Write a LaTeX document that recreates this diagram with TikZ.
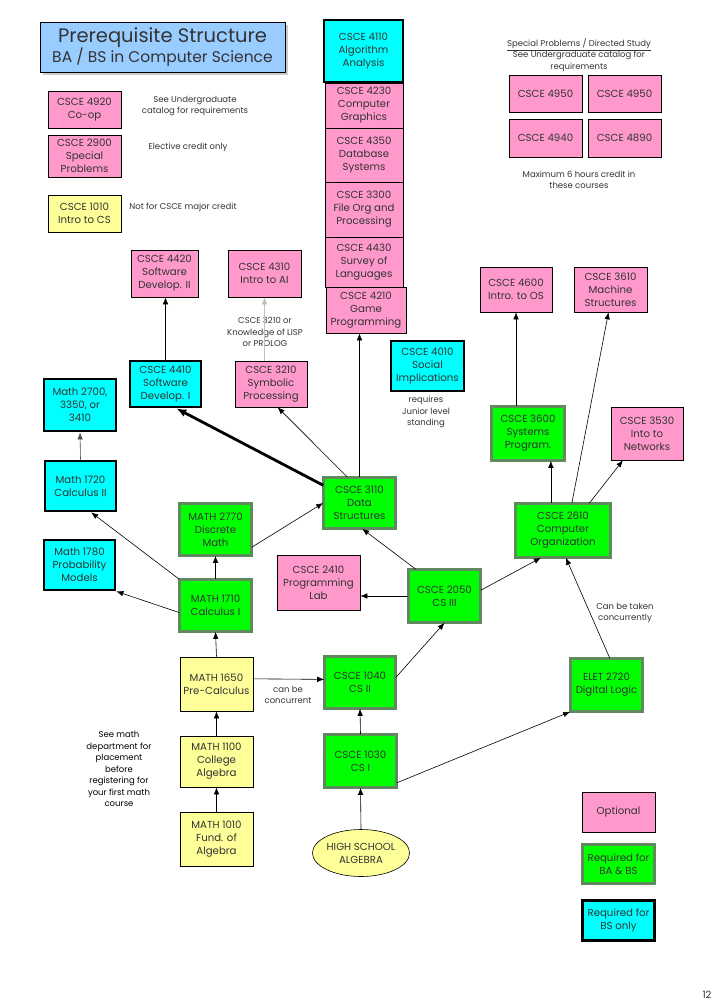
\documentclass[tikz,border=0pt]{standalone}
\usepackage{fontspec}
\setmainfont{Poppins}
\usetikzlibrary{arrows.meta,shadows,shapes.geometric}
\definecolor{optpink}{HTML}{FF99CC}
\definecolor{preyellow}{HTML}{FFFF99}
\definecolor{reqgreen}{HTML}{00FF00}
\definecolor{bandgreen}{HTML}{5E8A5E}
\definecolor{bscyan}{HTML}{00FFFF}
\definecolor{titleblue}{HTML}{99CCFF}
\definecolor{ink}{HTML}{333333}
\newcommand\boxfont{\fontsize{10.2}{13}\selectfont}
\newcommand\notefont{\fontsize{8.5}{11.5}\selectfont}
\tikzset{
  course/.style={rectangle, align=center, text=ink, font=\boxfont, inner sep=1pt, minimum width=74pt},
  optional/.style={course, draw=black, line width=0.6pt, fill=optpink},
  premath/.style={course, draw=black, line width=0.6pt, fill=preyellow},
  required/.style={course, draw=black, line width=0.6pt, double=bandgreen, double distance=2.2pt, fill=reqgreen},
  bsonly/.style={course, draw=black, line width=2.8pt, fill=bscyan},
  remark/.style={align=center, text=ink, font=\notefont},
  pre/.style={-{Latex[length=7pt,width=5.5pt]}, line width=0.6pt},
}
\begin{document}
\begin{tikzpicture}[x=1pt,y=-1pt]
\useasboundingbox (0,0) rectangle (720,1008);
% Title
\node[draw=black, line width=0.6pt, fill=titleblue, text=ink, align=center,
  minimum width=245pt, minimum height=50pt, inner sep=1pt,
  drop shadow={shadow xshift=3pt, shadow yshift=-3pt, fill=gray!80}] (title) at (162.5,47)
  {{\fontsize{19.5}{21}\selectfont Prerequisite Structure}\\{\fontsize{15.5}{18}\selectfont BA / BS in Computer Science}};
% Side courses
\node[optional, minimum width=73pt, minimum height=37pt] (c4920) at (84.5,109.5) {CSCE 4920\\Co-op};
\node[remark] (n4920) at (195,106) {See Undergraduate\\catalog for requirements};
\node[optional, minimum width=73pt, minimum height=42pt] (c2900) at (84.5,156) {CSCE 2900\\Special\\Problems};
\node[remark] (n2900) at (188,147) {Elective credit only};
\node[premath, minimum width=73pt, minimum height=37pt] (c1010) at (84.5,213.5) {CSCE 1010\\Intro to CS};
\node[remark] (n1010) at (183,207) {Not for CSCE major credit};
% Upper column
\node[bsonly, minimum width=79pt, minimum height=62pt] (c4110) at (363.5,51) {CSCE 4110\\Algorithm\\Analysis};
\node[optional, minimum width=78pt, minimum height=45pt] (c4230) at (364,105.5) {CSCE 4230\\Computer\\Graphics};
\node[optional, minimum width=78pt, minimum height=54pt] (c4350) at (364,155) {CSCE 4350\\Database\\Systems};
\node[optional, minimum width=78pt, minimum height=55pt] (c3300) at (364,209.5) {CSCE 3300\\File Org and\\Processing};
\node[optional, minimum width=78pt, minimum height=50pt] (c4430) at (364,262) {CSCE 4430\\Survey of\\Languages};
\node[optional, minimum width=80pt, minimum height=46pt] (c4210) at (366,310) {CSCE 4210\\Game\\Programming};
% Special problems
\node[remark] (nspec) at (579,55) {\underline{Special Problems / Directed Study}\\See Undergraduate catalog for\\requirements};
\node[optional, minimum width=73pt, minimum height=37pt] (s4950a) at (545.5,93.5) {CSCE 4950};
\node[optional, minimum width=73pt, minimum height=37pt] (s4950b) at (624.5,93.5) {CSCE 4950};
\node[optional, minimum width=73pt, minimum height=38pt] (s4940) at (545.5,138) {CSCE 4940};
\node[optional, minimum width=73pt, minimum height=38pt] (s4890) at (624.5,138) {CSCE 4890};
\node[remark] (nmax) at (579,180) {Maximum 6 hours credit in\\these courses};
% Upper level courses
\node[optional, minimum width=72pt, minimum height=45pt] (c4600) at (516,289.5) {CSCE 4600\\Intro. to OS};
\node[optional, minimum width=73pt, minimum height=45pt] (c3610) at (610.5,289.5) {CSCE 3610\\Machine\\Structures};
\node[optional, minimum width=67pt, minimum height=47pt] (c4420) at (164.5,273.5) {CSCE 4420\\Software\\Develop. II};
\node[optional, minimum width=73pt, minimum height=47pt] (c4310) at (264.5,273.5) {CSCE 4310\\Intro to AI};
\node[remark] (n4310) at (265,332) {CSCE 3210 or\\Knowledge of LISP\\or PROLOG};
\node[bsonly, minimum width=71pt, minimum height=46pt] (c4410) at (165.5,384) {CSCE 4410\\Software\\Develop. I};
\node[optional, minimum width=72pt, minimum height=46pt] (c3210) at (271,384) {CSCE 3210\\Symbolic\\Processing};
\node[bsonly, minimum width=72pt, minimum height=52pt] (m2700) at (80,405) {Math 2700,\\3350, or\\3410};
\node[bsonly, minimum width=73pt, minimum height=50pt] (c4010) at (427.5,366) {CSCE 4010\\Social\\Implications};
\node[remark] (n4010) at (426,412) {requires\\Junior level\\standing};
\node[required, minimum width=73pt, minimum height=54pt] (c3600) at (528,433.5) {CSCE 3600\\Systems\\Program.};
\node[optional, minimum width=72pt, minimum height=53pt] (c3530) at (647,433.5) {CSCE 3530\\Into to\\Networks};
\node[required, minimum width=72pt, minimum height=51pt] (c3110) at (359.5,503) {CSCE 3110\\Data\\Structures};
\node[required, minimum width=95pt, minimum height=54pt] (c2610) at (563,530.5) {CSCE 2610\\Computer\\Organization};
% Math and core
\node[bsonly, minimum width=71pt, minimum height=50pt] (m1720) at (80.5,486) {Math 1720\\Calculus II};
\node[required, minimum width=72pt, minimum height=52pt] (m2770) at (215.5,529.5) {MATH 2770\\Discrete\\Math};
\node[bsonly, minimum width=71pt, minimum height=50pt] (m1780) at (79.5,565) {Math 1780\\Probability\\Models};
\node[required, minimum width=72pt, minimum height=52pt] (m1710) at (215.5,605.5) {MATH 1710\\Calculus I};
\node[optional, minimum width=83pt, minimum height=55pt] (c2410) at (318.5,582.5) {CSCE 2410\\Programming\\Lab};
\node[required, minimum width=72pt, minimum height=53pt] (c2050) at (444.5,596) {CSCE 2050\\CS III};
\node[required, minimum width=71pt, minimum height=52pt] (c1040) at (360,682.5) {CSCE 1040\\CS II};
\node[required, minimum width=72pt, minimum height=53pt] (e2720) at (606.5,685) {ELET 2720\\Digital Logic};
\node[remark] (n2720) at (625,613) {Can be taken\\concurrently};
\node[premath, minimum width=73pt, minimum height=54pt] (m1650) at (216.5,684) {MATH 1650\\Pre-Calculus};
\node[remark] (n1650) at (288,695) {can be\\concurrent};
\node[premath, minimum width=73pt, minimum height=51pt] (m1100) at (216.5,761.5) {MATH 1100\\College\\Algebra};
\node[premath, minimum width=73pt, minimum height=54pt] (m1010) at (216.5,839) {MATH 1010\\Fund. of\\Algebra};
\node[remark, text=black] (nmath) at (119,769) {See math\\department for\\placement\\before\\registering for\\your first math\\course};
\node[required, minimum width=72pt, minimum height=53pt] (c1030) at (360.5,761) {CSCE 1030\\CS I};
\node[ellipse, draw=black, line width=0.6pt, fill=preyellow, text=ink, font=\boxfont, align=center,
  minimum width=84pt, minimum height=47pt, inner sep=0pt] (hsa) at (361,853) {HIGH SCHOOL\\ALGEBRA};
% Legend
\node[optional, minimum width=73pt, minimum height=40pt] (lopt) at (618.5,812) {Optional};
\node[required, minimum width=72pt, minimum height=39pt] (lreq) at (618.5,864) {Required for\\BA \& BS};
\node[bsonly, minimum width=72pt, minimum height=40pt] (lbs) at (618.5,920.5) {Required for\\BS only};
\node[text=ink, font=\fontsize{10}{12}\selectfont] (page) at (707,995) {12};
% Prerequisite arrows
\draw[pre] (m1010.north) -- (m1100.south);
\draw[pre] (m1100.north) -- (m1650.south);
\draw[pre] (m1650.north) -- (m1710.south);
\draw[pre] (m1710.north) -- (m2770.south);
\draw[pre] (m1710.north west) -- (m1720.-68);
\draw[pre] (m1710.-169) -- (m1780.south east);
\draw[pre, draw=black!70] (m1720.north) -- (m2700.south);
\draw[pre] (m1650.8) -- (c1040.175);
\draw[pre] (hsa.north) -- (c1030.south);
\draw[pre] (c1030.north) -- (c1040.south);
\draw[pre] (c1030.-31) -- (e2720.south west);
\draw[pre] (c1040.8) -- (c2050.south);
\draw[pre] (c2050.west) -- (c2050.west -| c2410.east);
\draw[pre] (c2050.137) -- (c3110.-84);
\draw[pre] (c2050.9) -- (c2610.-129);
\draw[pre] (e2720.83) -- (c2610.-84);
\draw[pre] (m2770.-26) -- (c3110.west);
\draw[pre] (c3110.north) -- (c3110.north |- c4210.south);
\draw[pre] (c3110.115) -- (c3210.-74);
\draw[-{Latex[length=10pt,width=8pt]}, line width=2.8pt] (c3110.154) -- (c4410.-66);
\draw[pre] (c4410.north) -- (c4410.north |- c4420.south);
\draw[pre, draw=black!25] (c3210.north -| c4310.south) -- (c4310.south);
\draw[pre] (c2610.114) -- (c2610.114 |- c3600.south);
\draw[pre] (c3600.north -| c4600.south) -- (c4600.south);
\draw[pre] (c2610.72) -- (c3610.-95);
\draw[pre] (c2610.46) -- (c3530.-132);
\end{tikzpicture}
\end{document}
